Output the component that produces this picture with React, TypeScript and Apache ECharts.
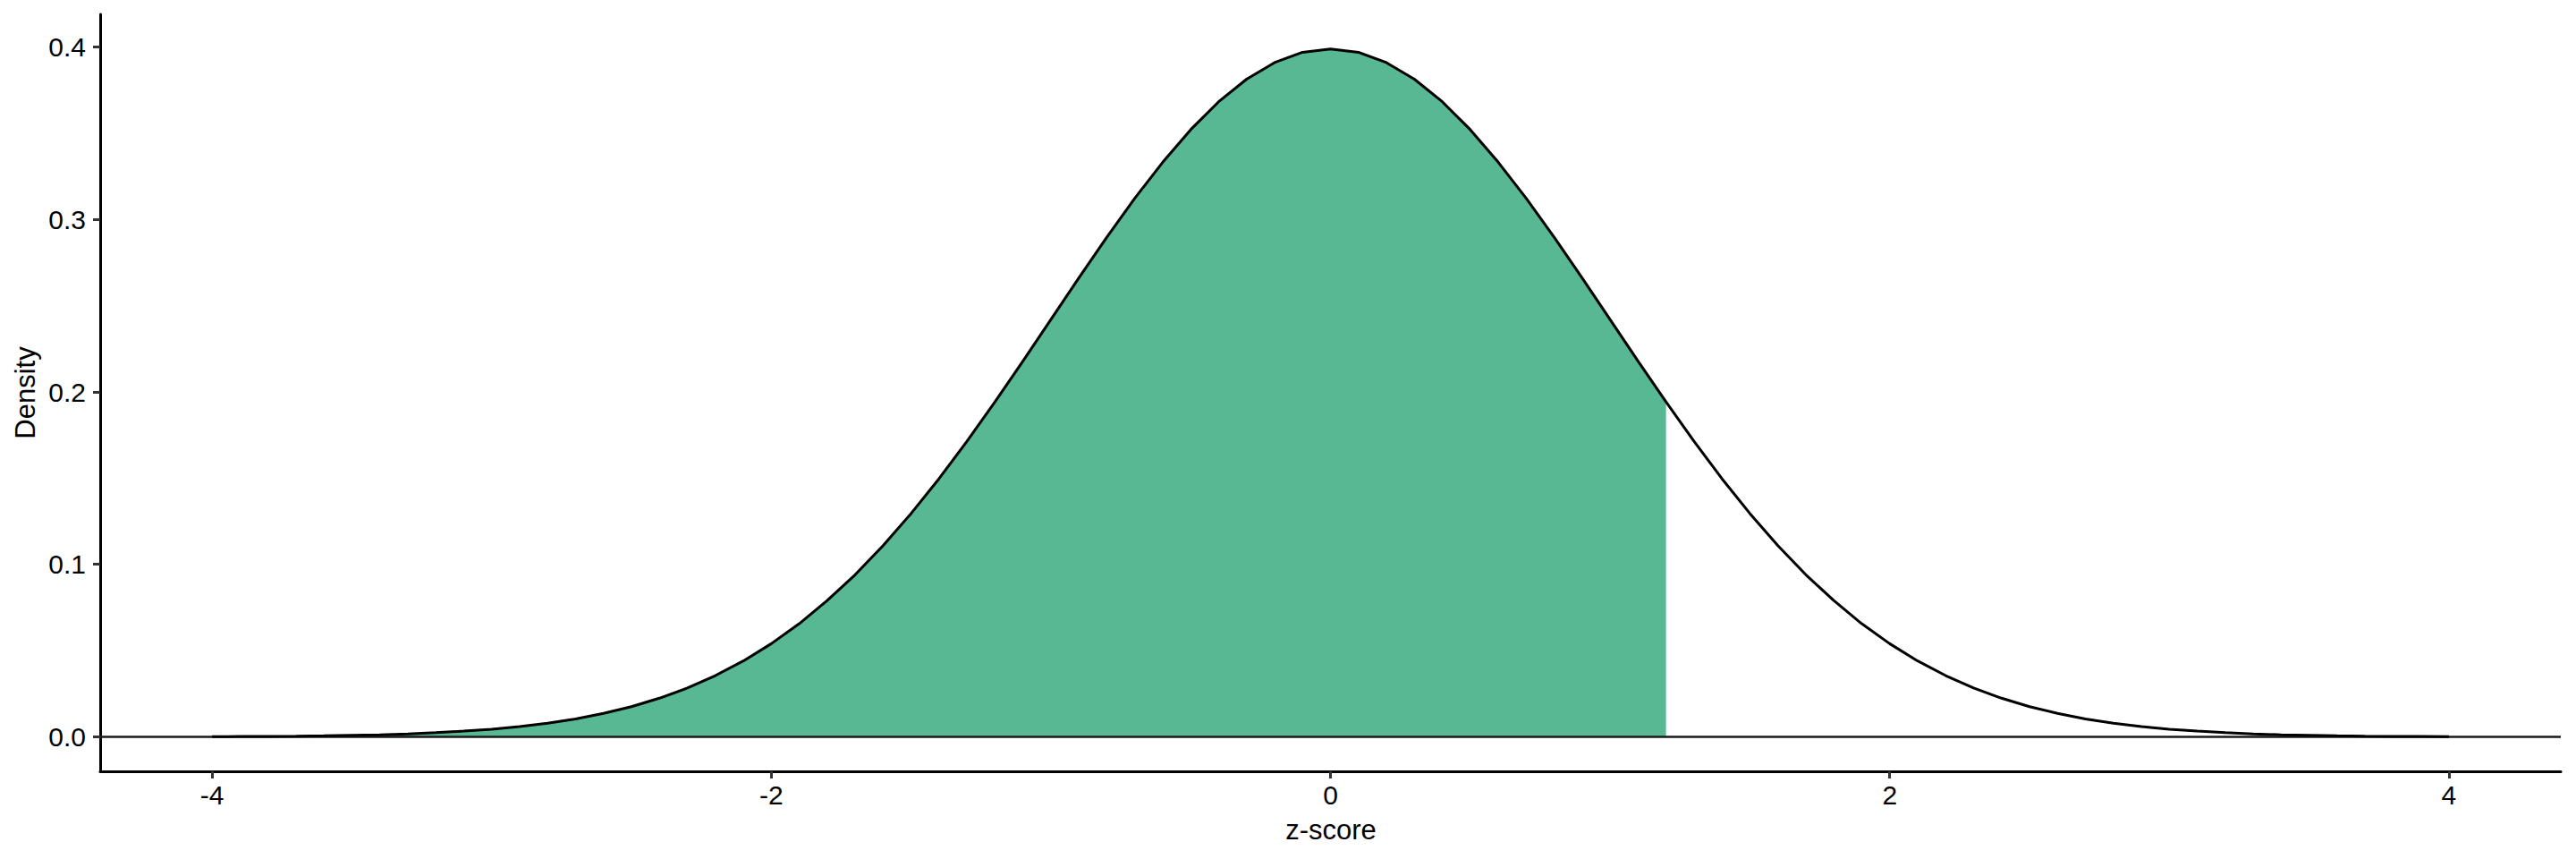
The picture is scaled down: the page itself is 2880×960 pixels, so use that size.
import React, { useEffect, useRef } from "react";
import * as echarts from "echarts";

const zScores = [
  -4.0, -3.9, -3.8, -3.7, -3.6, -3.5, -3.4, -3.3, -3.2, -3.1,
  -3.0, -2.9, -2.8, -2.7, -2.6, -2.5, -2.4, -2.3, -2.2, -2.1,
  -2.0, -1.9, -1.8, -1.7, -1.6, -1.5, -1.4, -1.3, -1.2, -1.1,
  -1.0, -0.9, -0.8, -0.7, -0.6, -0.5, -0.4, -0.3, -0.2, -0.1,
  0.0, 0.1, 0.2, 0.3, 0.4, 0.5, 0.6, 0.7, 0.8, 0.9,
  1.0, 1.1, 1.2, 1.3, 1.4, 1.5, 1.6, 1.7, 1.8, 1.9,
  2.0, 2.1, 2.2, 2.3, 2.4, 2.5, 2.6, 2.7, 2.8, 2.9,
  3.0, 3.1, 3.2, 3.3, 3.4, 3.5, 3.6, 3.7, 3.8, 3.9, 4.0,
];

const density = [
  0.0001, 0.0002, 0.0003, 0.0004, 0.0006, 0.0009, 0.0012, 0.0017, 0.0024, 0.0033,
  0.0044, 0.006, 0.0079, 0.0104, 0.0136, 0.0175, 0.0224, 0.0283, 0.0355, 0.044,
  0.054, 0.0656, 0.079, 0.094, 0.1109, 0.1295, 0.1497, 0.1714, 0.1942, 0.2179,
  0.242, 0.2661, 0.2897, 0.3123, 0.3332, 0.3521, 0.3683, 0.3814, 0.391, 0.397,
  0.3989, 0.397, 0.391, 0.3814, 0.3683, 0.3521, 0.3332, 0.3123, 0.2897, 0.2661,
  0.242, 0.2179, 0.1942, 0.1714, 0.1497, 0.1295, 0.1109, 0.094, 0.079, 0.0656,
  0.054, 0.044, 0.0355, 0.0283, 0.0224, 0.0175, 0.0136, 0.0104, 0.0079, 0.006,
  0.0044, 0.0033, 0.0024, 0.0017, 0.0012, 0.0009, 0.0006, 0.0004, 0.0003, 0.0002, 0.0001,
];

const shadeUpper = 1.2;
const xTicks = [-4, -2, 0, 2, 4];
const yTicks = [0, 0.1, 0.2, 0.3, 0.4];
const xRange = [-4.4, 4.4];
const yRange = [-0.02, 0.419];
const hlineY = 0;

const FONT = "'Liberation Sans', Arial, sans-serif";

export default function App() {
  const ref = useRef<HTMLDivElement>(null);

  useEffect(() => {
    if (!ref.current) return;
    const chart = echarts.init(ref.current, undefined, { renderer: "svg" });
    const curve = zScores.map((z, i) => [z, density[i]]);
    const shaded = curve.filter((p) => p[0] <= shadeUpper + 1e-9);

    chart.setOption({
      animation: false,
      backgroundColor: "#ffffff",
      grid: { left: 112, right: 17, top: 16, bottom: 98, containLabel: false },
      xAxis: {
        type: "value",
        min: xRange[0],
        max: xRange[1],
        axisLine: { show: true, onZero: false, lineStyle: { color: "#000", width: 3 } },
        axisTick: { show: true, length: 8, customValues: xTicks, lineStyle: { color: "#333", width: 3 } },
        axisLabel: {
          customValues: xTicks,
          margin: 11,
          color: "#000",
          fontSize: 30,
          fontFamily: FONT,
        },
        splitLine: { show: false },
      },
      yAxis: {
        type: "value",
        min: yRange[0],
        max: yRange[1],
        axisLine: { show: true, onZero: false, lineStyle: { color: "#000", width: 3 } },
        axisTick: { show: true, length: 8, customValues: yTicks, lineStyle: { color: "#333", width: 3 } },
        axisLabel: {
          customValues: yTicks,
          margin: 16,
          color: "#000",
          fontSize: 30,
          fontFamily: FONT,
          formatter: (v: number) => v.toFixed(1),
        },
        splitLine: { show: false },
      },
      graphic: [
        {
          type: "text",
          x: 1488,
          y: 927,
          style: {
            text: "z-score",
            fontSize: 31,
            fontFamily: FONT,
            fill: "#000",
            align: "center",
            verticalAlign: "middle",
          },
        },
        {
          type: "text",
          x: 28,
          y: 439,
          rotation: Math.PI / 2,
          style: {
            text: "Density",
            fontSize: 31,
            fontFamily: FONT,
            fill: "#000",
            align: "center",
            verticalAlign: "middle",
          },
        },
      ],
      series: [
        {
          type: "line",
          data: shaded,
          symbol: "none",
          lineStyle: { width: 0 },
          areaStyle: { color: "#58B894", opacity: 1, origin: 0 },
          z: 1,
        },
        {
          type: "line",
          data: [
            [xRange[0], hlineY],
            [xRange[1], hlineY],
          ],
          symbol: "none",
          lineStyle: { color: "#1a1a1a", width: 2.5 },
          z: 2,
        },
        {
          type: "line",
          data: curve,
          symbol: "none",
          lineStyle: { color: "#000", width: 3 },
          z: 3,
        },
      ],
    });
    return () => chart.dispose();
  }, []);

  return (
    <div
      ref={ref}
      style={{ position: "fixed", left: 0, top: 0, width: 2880, height: 960 }}
    />
  );
}
